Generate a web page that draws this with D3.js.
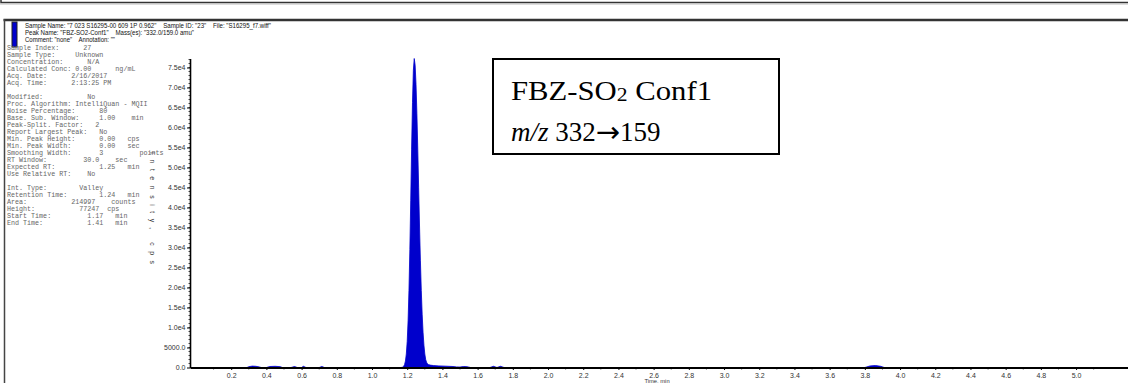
<!DOCTYPE html>
<html>
<head>
<meta charset="utf-8">
<script src="https://cdn.jsdelivr.net/npm/d3@7"></script>
<style>
  html, body { margin: 0; padding: 0; background: #fff; }
  svg { display: block; }
  text { white-space: pre; }
</style>
</head>
<body>
<svg id="chart" width="1128" height="383"></svg>
<script>
// chromatogram (time in min, intensity in cps)
const times = [
  0.00, 0.29, 0.30, 0.32, 0.34, 0.36, 0.37, 0.40, 0.42, 0.45, 0.48, 0.49,
  0.54, 0.56, 0.575, 0.60, 0.61, 0.625, 0.70, 0.715, 0.73, 1.165,
  1.17, 1.175, 1.18, 1.185, 1.19, 1.195, 1.20, 1.205, 1.21, 1.215, 1.22, 1.225,
  1.23, 1.235, 1.24, 1.245, 1.25, 1.255, 1.26, 1.265, 1.27, 1.275, 1.28, 1.285,
  1.29, 1.295, 1.30, 1.305, 1.31, 1.315, 1.32, 1.33, 1.35, 1.38, 1.42, 1.46,
  1.48, 1.50, 1.52, 1.54, 1.56, 1.67, 1.69, 1.71, 1.73, 1.75,
  3.80, 3.83, 3.86, 3.89, 3.91, 5.30
];
const intensity = [
  0, 0, 200, 350, 300, 150, 0, 0, 250, 300, 200, 0,
  0, 250, 0, 0, 300, 0, 0, 250, 0, 0,
  40, 114, 298, 726, 1630, 3390, 6540, 11660, 19270, 29450, 41670, 54590,
  66200, 74320, 77247, 75590, 70830, 63540, 54590, 44900, 35370, 26670, 19270, 13320,
  8820, 5590, 3390, 1975, 1300, 950, 750, 600, 480, 400, 330, 250,
  150, 120, 250, 200, 0, 0, 300, 0, 300, 0,
  0, 400, 500, 300, 0, 0
];

const xTicks = [0.2, 0.4, 0.6, 0.8, 1.0, 1.2, 1.4, 1.6, 1.8, 2.0, 2.2, 2.4, 2.6,
  2.8, 3.0, 3.2, 3.4, 3.6, 3.8, 4.0, 4.2, 4.4, 4.6, 4.8, 5.0];
const xTickLabels = ["0.2", "0.4", "0.6", "0.8", "1.0", "1.2", "1.4", "1.6", "1.8",
  "2.0", "2.2", "2.4", "2.6", "2.8", "3.0", "3.2", "3.4", "3.6", "3.8", "4.0",
  "4.2", "4.4", "4.6", "4.8", "5.0"];
const yTicks = [0, 5000, 10000, 15000, 20000, 25000, 30000, 35000, 40000,
  45000, 50000, 55000, 60000, 65000, 70000, 75000];
const yTickLabels = ["0.0", "5000.0", "1.0e4", "1.5e4", "2.0e4", "2.5e4", "3.0e4",
  "3.5e4", "4.0e4", "4.5e4", "5.0e4", "5.5e4", "6.0e4", "6.5e4", "7.0e4", "7.5e4"];
const peakHeight = 77247;

const headerLines = [
  'Sample Name: "7 023 S16295-00 609 1P 0.962"    Sample ID: "23"    File: "S16295_f7.wiff"',
  'Peak Name: "FBZ-SO2-Conf1"    Mass(es): "332.0/159.0 amu"',
  'Comment: "none"    Annotation: ""'
];
const headerWidths = [246, 169, 90];

// [label, value column, value, unit column, unit]
const infoRows = [
  ["Sample Index:", 19, "27"],
  ["Sample Type:", 17, "Unknown"],
  ["Concentration:", 20, "N/A"],
  ["Calculated Conc:", 17, "0.00", 27, "ng/mL"],
  ["Acq. Date:", 16, "2/16/2017"],
  ["Acq. Time:", 16, "2:13:25 PM"],
  [""],
  ["Modified:", 20, "No"],
  ["Proc. Algorithm: IntelliQuan - MQII"],
  ["Noise Percentage:", 23, "80"],
  ["Base. Sub. Window:", 23, "1.00", 31, "min"],
  ["Peak-Split. Factor:", 22, "2"],
  ["Report Largest Peak:", 23, "No"],
  ["Min. Peak Height:", 23, "0.00", 30, "cps"],
  ["Min. Peak Width:", 23, "0.00", 30, "sec"],
  ["Smoothing Width:", 23, "3", 33, "points"],
  ["RT Window:", 19, "30.0", 27, "sec"],
  ["Expected RT:", 23, "1.25", 30, "min"],
  ["Use Relative RT:", 20, "No"],
  [""],
  ["Int. Type:", 18, "Valley"],
  ["Retention Time:", 23, "1.24", 30, "min"],
  ["Area:", 16, "214997", 26, "counts"],
  ["Height:", 18, "77247", 25, "cps"],
  ["Start Time:", 20, "1.17", 27, "min"],
  ["End Time:", 20, "1.41", 27, "min"]
];

const svg = d3.select("#chart");
svg.append("rect").attr("width", 1128).attr("height", 383).attr("fill", "#fff");

// page frame
svg.append("rect").attr("x", 1).attr("y", -2).attr("width", 1130).attr("height", 4.5)
  .attr("fill", "none").attr("stroke", "#333").attr("stroke-width", 1.5);
svg.append("line").attr("x1", 0).attr("x2", 1128).attr("y1", 4).attr("y2", 4)
  .attr("stroke", "#bbb").attr("stroke-width", 1);
svg.append("line").attr("x1", 3.5).attr("x2", 1128).attr("y1", 20).attr("y2", 20)
  .attr("stroke", "#333").attr("stroke-width", 2.5);
svg.append("line").attr("x1", 4.5).attr("x2", 4.5).attr("y1", 19).attr("y2", 383)
  .attr("stroke", "#444").attr("stroke-width", 1.5);

// blue marker + header
svg.append("rect").attr("x", 12).attr("y", 22).attr("width", 5).attr("height", 25)
  .attr("fill", "#0000cc").attr("stroke", "#222").attr("stroke-width", 1);
svg.selectAll(".hdr").data(headerLines).join("text")
  .attr("class", "hdr")
  .attr("x", 25).attr("y", (d, i) => 28 + i * 7)
  .attr("font-family", "Liberation Sans, Arial, sans-serif")
  .attr("font-size", 6.8).attr("fill", "#111")
  .attr("textLength", (d, i) => headerWidths[i])
  .attr("lengthAdjust", "spacingAndGlyphs")
  .text(d => d);

// info block (monospace)
const infoLine = r => {
  let s = r[0];
  if (r.length > 1) s = s.padEnd(r[1]) + r[2];
  if (r.length > 3) s = s.padEnd(r[3]) + r[4];
  return s;
};
svg.selectAll(".info").data(infoRows).join("text")
  .attr("class", "info")
  .attr("x", 7).attr("y", (d, i) => 50 + i * 7)
  .attr("font-family", "Liberation Mono, Courier New, monospace")
  .attr("font-size", 6.7).attr("fill", "#666")
  .text(infoLine);

// scales
const x = d3.scaleLinear().domain([-0.034, 5.295]).range([190, 1128]);
const y = d3.scaleLinear().domain([0, peakHeight]).range([367.5, 58.5]);

// peak trace
const pts = times.map((t, i) => [t, intensity[i]]);
const area = d3.area().x(d => x(d[0])).y0(y(0)).y1(d => y(d[1]));
svg.append("path").datum(pts)
  .attr("d", area)
  .attr("fill", "#0000cc")
  .attr("stroke", "#0000cc").attr("stroke-width", 0.8);

// y axis
const tickFont = "Liberation Sans, Arial, sans-serif";
const yAxis = svg.append("g").attr("transform", "translate(190,0)")
  .call(d3.axisLeft(y).tickValues(yTicks)
    .tickFormat((d, i) => yTickLabels[i]).tickSize(3).tickSizeOuter(0).tickPadding(1.5));
yAxis.select(".domain").attr("stroke", "#000").attr("stroke-width", 1.6);
yAxis.selectAll(".tick line").attr("stroke", "#000");
yAxis.selectAll(".tick text").attr("font-family", tickFont)
  .attr("font-size", 7).attr("fill", "#333");
yAxis.selectAll(".minor").data(d3.range(1000, peakHeight, 1000)).join("line")
  .attr("class", "minor")
  .attr("x1", -1.5).attr("x2", 0)
  .attr("y1", d => y(d)).attr("y2", d => y(d))
  .attr("stroke", "#000").attr("stroke-width", 0.7);

// x axis
const xAxis = svg.append("g").attr("transform", `translate(0,${y(0)})`)
  .call(d3.axisBottom(x).tickValues(xTicks)
    .tickFormat((d, i) => xTickLabels[i]).tickSize(2.5).tickSizeOuter(0).tickPadding(3));
xAxis.select(".domain").attr("stroke", "#000").attr("stroke-width", 1.8);
xAxis.selectAll(".tick line").attr("stroke", "#000");
xAxis.selectAll(".tick text").attr("font-family", tickFont)
  .attr("font-size", 7).attr("fill", "#333");
xAxis.selectAll(".minor").data(d3.range(0.1, 5.3, 0.2)).join("line")
  .attr("class", "minor")
  .attr("x1", d => x(d)).attr("x2", d => x(d))
  .attr("y1", 0).attr("y2", 2)
  .attr("stroke", "#000").attr("stroke-width", 0.7);

// axis titles
svg.append("text")
  .attr("x", 657).attr("y", 383)
  .attr("text-anchor", "middle")
  .attr("font-family", tickFont).attr("font-size", 5.8).attr("fill", "#333")
  .text("Time, min");
svg.append("text")
  .attr("transform", "translate(150,208) rotate(90)")
  .attr("text-anchor", "middle")
  .attr("font-family", tickFont).attr("font-size", 6.8).attr("fill", "#333")
  .attr("textLength", 112).attr("lengthAdjust", "spacing")
  .text("Intensity, cps");

// annotation box
svg.append("rect").attr("x", 493).attr("y", 59).attr("width", 286).attr("height", 95)
  .attr("fill", "#fff").attr("stroke", "#000").attr("stroke-width", 2);
const serif = "Liberation Serif, Times New Roman, serif";
const t1 = svg.append("text").attr("x", 511).attr("y", 100)
  .attr("font-family", serif).attr("font-size", 27).attr("fill", "#000")
  .attr("textLength", 201).attr("lengthAdjust", "spacingAndGlyphs");
t1.append("tspan").text("FBZ-SO");
t1.append("tspan").attr("font-size", 19).attr("dy", 1).text("2");
t1.append("tspan").attr("dy", -1).text(" Conf1");
const t2 = svg.append("text").attr("x", 511).attr("y", 141)
  .attr("font-family", serif).attr("font-size", 27).attr("fill", "#000");
t2.append("tspan").attr("font-style", "italic").text("m/z");
t2.append("tspan").text(" 332");
t2.append("tspan").attr("font-family", "DejaVu Sans, sans-serif").attr("font-size", 29)
  .attr("dy", 1).text("\u2192");
t2.append("tspan").attr("dy", -1).text("159");
</script>
</body>
</html>
